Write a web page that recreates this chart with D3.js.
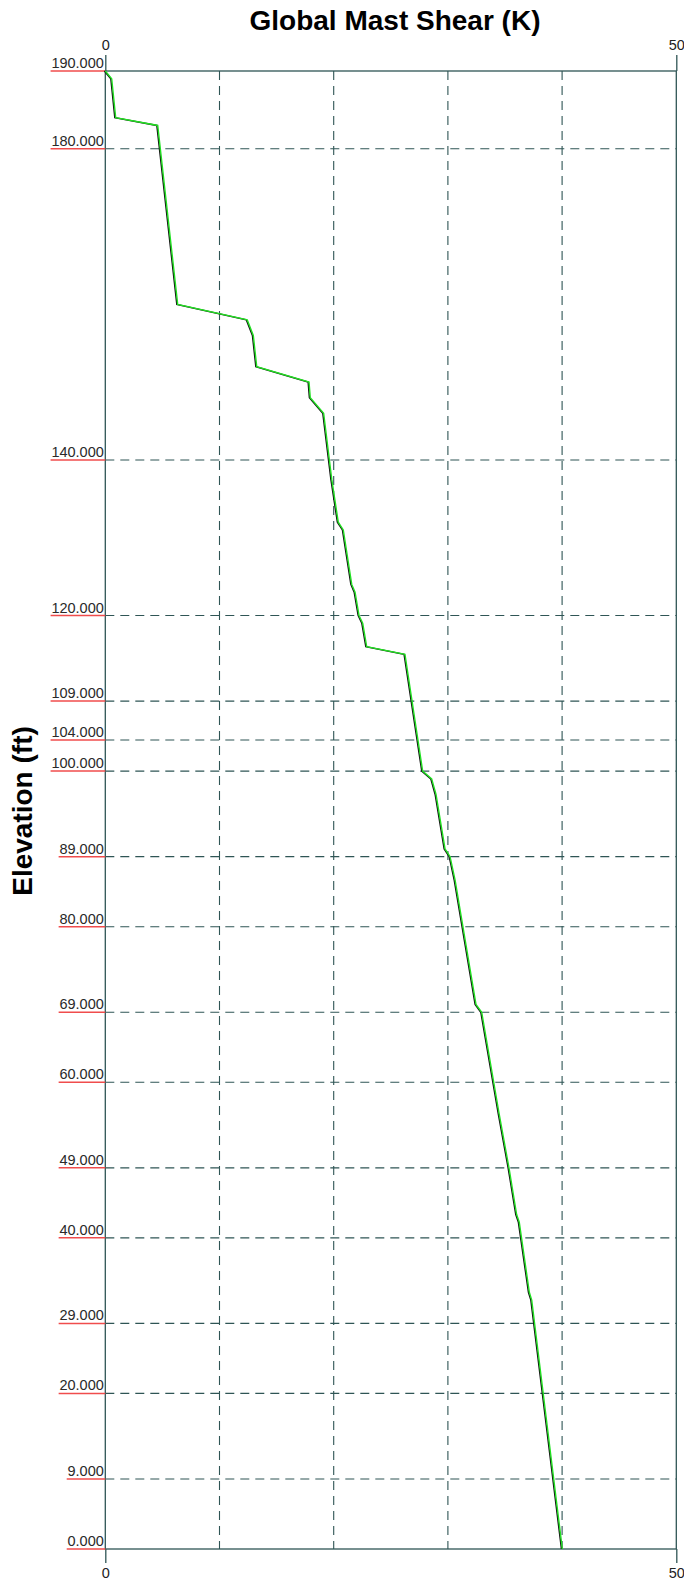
<!DOCTYPE html>
<html>
<head>
<meta charset="utf-8">
<script src="https://cdn.jsdelivr.net/npm/d3@7/dist/d3.min.js"></script>
<style>
  html, body { margin: 0; padding: 0; background: #fff; }
  svg { display: block; }
  text { font-family: "Liberation Sans", Arial, sans-serif; }
</style>
</head>
<body>
<svg id="chart" width="684" height="1583"></svg>
<script>
// ---- data ----
const elevation = [190, 189, 184, 183, 160, 158, 156, 152, 150, 148, 146, 137.5, 132, 131, 124, 123, 120, 119, 116, 115, 100, 99, 97, 90, 89, 86, 70, 69, 56, 49, 43, 42, 33, 32, 0];
const shear     = [0, 0.56, 0.91, 4.59, 6.34, 12.43, 12.96, 13.26, 17.84, 17.95, 19.12, 19.83, 20.4, 20.84, 21.58, 21.87, 22.22, 22.54, 22.89, 26.24, 27.79, 28.58, 28.96, 29.75, 30.19, 30.63, 32.46, 32.96, 34.48, 35.35, 36.02, 36.25, 37.13, 37.34, 40.02];
const elevTicks = [190, 180, 140, 120, 109, 104, 100, 89, 80, 69, 60, 49, 40, 29, 20, 9, 0];
const shearGrid = [10, 20, 30, 40];
const shearLabels = [0, 50];
const titleText = "Global Mast Shear (K)";
const yTitle = "Elevation (ft)";

(function () {
// ---- layout ----
const pL = 105.3, pR = 676.3, pT = 71, pB = 1549;
const axisColor = "#2F5555";
const svg = d3.select("#chart");

const x = d3.scaleLinear().domain([0, 50]).range([pL, pR]);
const y = d3.scaleLinear().domain([0, 190]).range([pB, pT]);

// grid
const grid = svg.append("g").attr("stroke", axisColor).attr("stroke-width", 1.1)
  .attr("stroke-dasharray", "9,6").attr("fill", "none");
grid.selectAll("line.v").data(shearGrid).join("line").attr("class", "v")
  .attr("x1", d => x(d)).attr("x2", d => x(d)).attr("y1", pT).attr("y2", pB);
grid.selectAll("line.h").data(elevTicks.filter(d => d !== 0 && d !== 190)).join("line").attr("class", "h")
  .attr("x1", pL).attr("x2", pR).attr("y1", d => y(d)).attr("y2", d => y(d));

// frame
svg.append("rect").attr("x", pL).attr("y", pT).attr("width", pR - pL).attr("height", pB - pT)
  .attr("stroke", axisColor).attr("stroke-width", 1.3).attr("fill", "none");

// top & bottom axes (ticks at 0 and 50)
const topAxis = d3.axisTop(x).tickValues(shearLabels).tickSize(16).tickPadding(5).tickFormat(d3.format("d"));
const botAxis = d3.axisBottom(x).tickValues(shearLabels).tickSize(14).tickPadding(5).tickFormat(d3.format("d"));
function styleAxis(g) {
  g.select(".domain").remove();
  g.selectAll(".tick line").attr("stroke", axisColor).attr("stroke-width", 1.3);
  g.selectAll(".tick text").attr("font-size", 14.5).attr("fill", "#222")
    .attr("font-family", '"Liberation Sans", Arial, sans-serif');
}
svg.append("g").attr("transform", `translate(0,${pT})`).call(topAxis).call(styleAxis);
svg.append("g").attr("transform", `translate(0,${pB})`).call(botAxis).call(styleAxis);

// y tick labels with red underline
const fmt = d3.format(".3f");
const yl = svg.append("g");
yl.selectAll("text").data(elevTicks).join("text")
  .attr("x", pL - 1.5).attr("y", d => y(d) - 3)
  .attr("text-anchor", "end").attr("font-size", 14.5).attr("fill", "#2a2a2a")
  .text(d => fmt(d))
  .each(function(d) {
    const w = this.getComputedTextLength();
    yl.append("line").attr("x1", pL - 1.5 - w - 0.8).attr("x2", pL)
      .attr("y1", y(d)).attr("y2", y(d))
      .attr("stroke", "#f04c4c").attr("stroke-width", 1.5);
  });

// line
const line = d3.line().x((d, i) => x(shear[i])).y((d, i) => y(elevation[i]));
svg.append("path").datum(elevation).attr("d", line)
  .attr("fill", "none").attr("stroke", "#111").attr("stroke-width", 1.4)
  .attr("transform", "translate(-0.9,0)");
svg.append("path").datum(elevation).attr("d", line)
  .attr("fill", "none").attr("stroke", "#22e022").attr("stroke-width", 1.4);

// titles
svg.append("text").attr("x", 395).attr("y", 30).attr("text-anchor", "middle")
  .attr("font-size", 28).attr("font-weight", "bold").attr("fill", "#000").text(titleText);
svg.append("text").attr("transform", `translate(32,811) rotate(-90)`).attr("text-anchor", "middle")
  .attr("font-size", 28).attr("font-weight", "bold").attr("fill", "#000").text(yTitle);
})();
</script>
</body>
</html>
